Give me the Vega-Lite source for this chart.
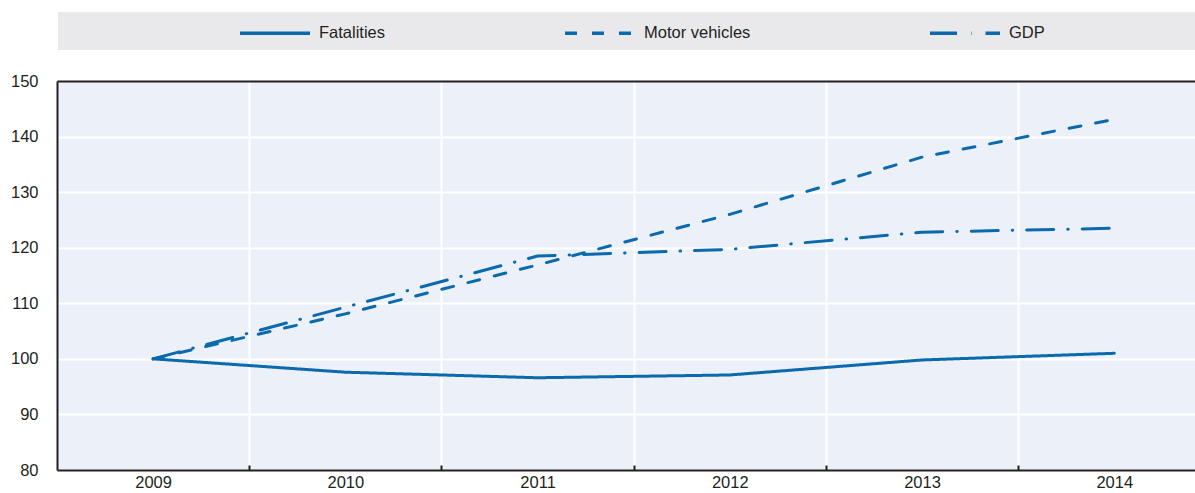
{
  "$schema": "https://vega.github.io/schema/vega-lite/v6.json",
  "autosize": {"type": "none"},
  "padding": {"left": 57, "top": 81, "right": 0, "bottom": 23},
  "width": 1138,
  "height": 389,
  "background": "white",
  "config": {
    "font": "Liberation Sans",
    "view": {"stroke": null, "fill": "#ecf1f9"},
    "axis": {"labelFont": "Liberation Sans", "labelFontSize": 16.5, "labelColor": "#231f20", "domainColor": "#231f20", "domainWidth": 2, "title": null}
  },
  "data": {
    "values": [
      {"year": 2009, "series": "Fatalities", "value": 100},
      {"year": 2010, "series": "Fatalities", "value": 97.6},
      {"year": 2011, "series": "Fatalities", "value": 96.6},
      {"year": 2012, "series": "Fatalities", "value": 97.1},
      {"year": 2013, "series": "Fatalities", "value": 99.8},
      {"year": 2014, "series": "Fatalities", "value": 101.0},
      {"year": 2009, "series": "Motor vehicles", "value": 100},
      {"year": 2010, "series": "Motor vehicles", "value": 108.1},
      {"year": 2011, "series": "Motor vehicles", "value": 116.9},
      {"year": 2012, "series": "Motor vehicles", "value": 126.0},
      {"year": 2013, "series": "Motor vehicles", "value": 136.3},
      {"year": 2014, "series": "Motor vehicles", "value": 143.1},
      {"year": 2009, "series": "GDP", "value": 100},
      {"year": 2010, "series": "GDP", "value": 109.3},
      {"year": 2011, "series": "GDP", "value": 118.5},
      {"year": 2012, "series": "GDP", "value": 119.7},
      {"year": 2013, "series": "GDP", "value": 122.8},
      {"year": 2014, "series": "GDP", "value": 123.5}
    ]
  },
  "layer": [
    {
      "mark": {"type": "rect", "color": "#e9e9eb", "clip": false},
      "encoding": {
        "x": {"datum": 2008.505, "type": "quantitative"},
        "x2": {"datum": 2014.42},
        "y": {"datum": 155.6, "type": "quantitative"},
        "y2": {"datum": 162.3}
      }
    },
    {
      "mark": {"type": "line", "color": "#0b69ad", "strokeWidth": 3, "strokeCap": "round", "strokeJoin": "round"},
      "encoding": {
        "x": {
          "field": "year", "type": "quantitative",
          "scale": {"domain": [2008.5, 2014.42], "nice": false, "zero": false},
          "axis": {
            "values": [2009, 2009.5, 2010, 2010.5, 2011, 2011.5, 2012, 2012.5, 2013, 2013.5, 2014],
            "labelExpr": "datum.value % 1 === 0 ? format(datum.value, 'd') : ''",
            "grid": true,
            "gridColor": "white",
            "gridWidth": 2,
            "gridOpacity": {"condition": {"test": "datum.value % 1 !== 0", "value": 1}, "value": 0},
            "ticks": true,
            "tickColor": "#231f20",
            "tickWidth": 2,
            "tickSize": -5,
            "tickOpacity": {"condition": {"test": "datum.value % 1 !== 0", "value": 1}, "value": 0},
            "labelPadding": 9,
            "labelFlush": false,
            "labelOverlap": false
          }
        },
        "y": {
          "field": "value", "type": "quantitative",
          "scale": {"domain": [80, 150], "nice": false, "zero": false},
          "axis": {
            "values": [80, 90, 100, 110, 120, 130, 140, 150],
            "grid": true,
            "gridColor": {"condition": {"test": "datum.value === 150", "value": "#231f20"}, "value": "white"},
            "gridWidth": 2,
            "ticks": false,
            "labelPadding": 19
          }
        },
        "strokeDash": {
          "field": "series", "type": "nominal",
          "scale": {"domain": ["Fatalities", "Motor vehicles", "GDP"], "range": [[1, 0], [12, 15], [27, 14, 0.5, 14]]},
          "legend": {
            "title": null,
            "orient": "none",
            "direction": "horizontal",
            "legendX": 181,
            "legendY": -85,
            "symbolType": "stroke",
            "symbolSize": 4900,
            "symbolStrokeWidth": 3.5,
            "symbolStrokeColor": "#0b69ad",
            "labelFont": "Liberation Sans",
            "labelFontSize": 16.5,
            "labelColor": "#231f20",
            "labelOffset": 7,
            "columnPadding": 172,
            "padding": 0
          }
        }
      }
    }
  ]
}
